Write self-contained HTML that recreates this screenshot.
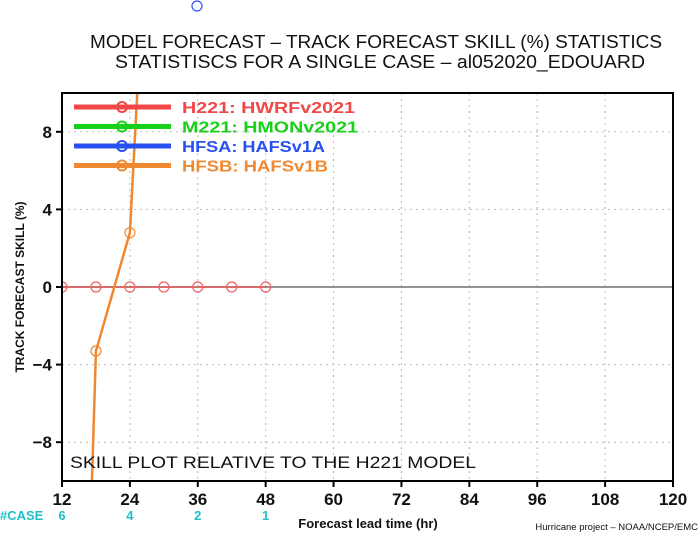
<!DOCTYPE html>
<html><head><meta charset="utf-8"><style>
html,body{margin:0;background:#fff;width:700px;height:538px;overflow:hidden}
svg{display:block;overflow:hidden;font-family:"Liberation Sans",sans-serif}
</style></head><body>
<svg id="c" width="700" height="538">
<circle cx="197" cy="6" r="5" fill="none" stroke="#3050ff" stroke-width="1.2"/>
<text x="90" y="48" font-size="18" textLength="572" lengthAdjust="spacingAndGlyphs" fill="#111">MODEL FORECAST – TRACK FORECAST SKILL (%) STATISTICS</text>
<text x="115" y="68" font-size="18" textLength="530" lengthAdjust="spacingAndGlyphs" fill="#111">STATISTISCS FOR A SINGLE CASE – al052020_EDOUARD</text>
<g id="grid"></g>
<defs><clipPath id="pc"><rect x="62" y="93" width="611" height="388"/></clipPath></defs>
<g id="series" clip-path="url(#pc)"></g>
<rect x="62" y="93" width="611" height="388" fill="none" stroke="#000" stroke-width="2"/>
<g id="axes"></g>
<g id="legend"></g>
<text x="70" y="468" font-size="17" textLength="406" lengthAdjust="spacingAndGlyphs" fill="#111">SKILL PLOT RELATIVE TO THE H221 MODEL</text>
<text transform="translate(24,287) rotate(-90)" font-size="12" font-weight="bold" text-anchor="middle" fill="#111">TRACK FORECAST SKILL (%)</text>
<text x="368" y="528" font-size="13" font-weight="bold" text-anchor="middle" fill="#111">Forecast lead time (hr)</text>
<text x="698" y="530" font-size="9.5" text-anchor="end" fill="#111">Hurricane project – NOAA/NCEP/EMC</text>
<text x="0" y="520" font-size="13" font-weight="bold" fill="#20c0c8">#CASE</text>
</svg>
<script>
const xTicks=[12,24,36,48,60,72,84,96,108,120];
const yTicks=[-8,-4,0,4,8];
const caseHours=[12,24,36,48];
const caseCounts=[6,4,2,1];
const h221Hours=[12,18,24,30,36,42,48];
const h221Vals=[0,0,0,0,0,0,0];
const hfsbHours=[12,18,24,36];
const hfsbVals=[-60,-3.3,2.8,69];
const legendNames=["H221:  HWRFv2021","M221:  HMONv2021","HFSA:  HAFSv1A","HFSB:  HAFSv1B"];
const legendColors=["#f04848","#18d018","#2850f0","#f08830"];
const legendWidths=[173,176,143,146];
const NS="http://www.w3.org/2000/svg";
const X=v=>62+(v-12)*611/108;
const Y=v=>287-v*19.4;
function mk(t,a,p){const e=document.createElementNS(NS,t);for(const k in a)e.setAttribute(k,a[k]);p.appendChild(e);return e;}
const grid=document.getElementById('grid'),axes=document.getElementById('axes'),ser=document.getElementById('series'),leg=document.getElementById('legend');
xTicks.forEach(t=>{
 if(t>12&&t<120){const g=mk('line',{x1:X(t),x2:X(t),y1:93,y2:481,stroke:'#bbb','stroke-dasharray':'2,4'},grid);
 
 }
 const k=mk('line',{x1:X(t),x2:X(t),y1:481,y2:487,stroke:'#000','stroke-width':2},axes);
 
 
 const l=mk('text',{x:X(t),y:505,'font-size':17,'font-weight':'bold','text-anchor':'middle',fill:'#111'},axes);l.textContent=t;
 
 
});
yTicks.forEach(t=>{
 if(t!==0){const g=mk('line',{x1:62,x2:673,y1:Y(t),y2:Y(t),stroke:'#bbb','stroke-dasharray':'2,4'},grid);
 
 }
 const k=mk('line',{x1:56,x2:62,y1:Y(t),y2:Y(t),stroke:'#000','stroke-width':2},axes);
 
 
 const l=mk('text',{x:52,y:Y(t)+6,'font-size':17,'font-weight':'bold','text-anchor':'end',fill:'#111'},axes);l.textContent=(t<0?'\u2212':'')+Math.abs(t);
 
 
});
const z=mk('line',{x1:62,x2:673,y1:Y(0),y2:Y(0),stroke:'#555','stroke-width':1.3},grid);


caseHours.forEach((h,i)=>{const l=mk('text',{x:X(h),y:520,'font-size':13,'font-weight':'bold','text-anchor':'middle',fill:'#20c0c8'},axes);l.textContent=caseCounts[i];
 
 });
const rl=mk('polyline',{points:h221Hours.map((h,i)=>X(h)+','+Y(h221Vals[i])).join(' '),fill:'none',stroke:'#d03030','stroke-width':1.2},ser);


h221Hours.forEach((h,i)=>{const c=mk('circle',{cx:X(h),cy:Y(h221Vals[i]),r:5,fill:'none',stroke:'#f06060','stroke-width':1.2},ser);
 
 });
const ol=mk('polyline',{points:hfsbHours.map((h,i)=>X(h)+','+Y(hfsbVals[i])).join(' '),fill:'none',stroke:'#f08830','stroke-width':2.5},ser);


hfsbHours.forEach((h,i)=>{const c=mk('circle',{cx:X(h),cy:Y(hfsbVals[i]),r:5,fill:'none',stroke:'#f08830','stroke-width':1.2},ser);
 
 });
legendNames.forEach((n,i)=>{const y=107+i*19.5;
 const g=mk('g',{},leg);
 
 
 mk('line',{x1:74,x2:171,y1:y,y2:y,stroke:legendColors[i],'stroke-width':5},g);
 mk('circle',{cx:122,cy:y,r:5,fill:'none',stroke:legendColors[i],'stroke-width':2},g);
 const t=mk('text',{x:182,y:y+6,'font-size':16,'font-weight':'bold',fill:legendColors[i],textLength:legendWidths[i],lengthAdjust:'spacingAndGlyphs'},g);t.textContent=n;
});
</script>
</body></html>
